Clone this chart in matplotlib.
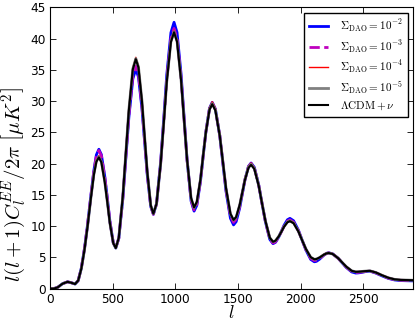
import numpy as np
import matplotlib
matplotlib.use("Agg")
import matplotlib.pyplot as plt

# multipoles (shared by all curves)
ell = [0, 30, 60, 100, 140, 170, 200, 225, 250, 275, 300, 325, 350, 370, 390,
       410, 437, 458, 478, 505, 525,
       549, 581, 605, 629, 661, 685,
       706, 734, 755, 776, 804, 825,
       850, 883, 908, 932, 965, 990,
       1014, 1046, 1070, 1094, 1126, 1150,
       1172, 1201, 1222, 1244, 1273, 1295,
       1320, 1355, 1380, 1405, 1440, 1465,
       1486, 1514, 1535, 1556, 1584, 1605,
       1631, 1666, 1692, 1719, 1754, 1780,
       1800, 1827, 1848, 1868, 1895, 1915,
       1944, 1983, 2012, 2042, 2081, 2110,
       2127, 2150, 2168, 2185, 2208, 2225,
       2257, 2300, 2332, 2365, 2408, 2440,
       2457, 2480, 2498, 2515, 2538, 2555,
       2600, 2650, 2700, 2750, 2800, 2850, 2900]

# Sigma_DAO = 1e-2
ee_m2 = [0, 0.02, 0.2, 0.8, 1.1, 0.95, 0.75, 1.3, 3.3, 6.4, 10.3, 14.7, 18.9, 21.4, 22.3,
         21.45, 17.99, 14.4, 10.81, 7.35, 6.5,
         8.04, 14.31, 20.8, 27.29, 33.56, 35.1,
         33.85, 28.77, 23.5, 18.23, 13.15, 11.9,
         13.56, 20.28, 27.25, 34.22, 40.94, 42.6,
         40.97, 34.36, 27.5, 20.64, 14.03, 12.4,
         13.34, 17.15, 21.1, 25.05, 28.86, 29.8,
         28.74, 24.45, 20.0, 15.55, 11.26, 10.2,
         10.73, 12.9, 15.15, 17.4, 19.57, 20.1,
         19.4, 16.58, 13.65, 10.72, 7.9, 7.2,
         7.42, 8.31, 9.23, 10.14, 11.03, 11.25,
         10.87, 9.35, 7.78, 6.2, 4.68, 4.3,
         4.38, 4.7, 5.03, 5.35, 5.67, 5.75,
         5.57, 4.86, 4.13, 3.39, 2.68, 2.5,
         2.52, 2.58, 2.65, 2.72, 2.78, 2.8,
         2.5, 2.05, 1.65, 1.4, 1.3, 1.27, 1.25]

# Sigma_DAO = 1e-3
ee_m3 = [0, 0.02, 0.2, 0.8, 1.1, 0.95, 0.75, 1.3, 3.3, 6.4, 10.3, 14.6, 18.8, 21.2, 22.1,
         21.26, 17.84, 14.3, 10.76, 7.34, 6.5,
         8.07, 14.44, 21.05, 27.66, 34.03, 35.6,
         34.32, 29.13, 23.75, 18.37, 13.18, 11.9,
         13.5, 20.01, 26.75, 33.49, 40.0, 41.6,
         40.03, 33.68, 27.1, 20.52, 14.17, 12.6,
         13.52, 17.27, 21.15, 25.03, 28.78, 29.7,
         28.67, 24.49, 20.15, 15.81, 11.63, 10.6,
         11.11, 13.17, 15.3, 17.43, 19.49, 20.0,
         19.31, 16.53, 13.65, 10.77, 7.99, 7.3,
         7.5, 8.31, 9.15, 9.99, 10.8, 11.0,
         10.65, 9.23, 7.75, 6.27, 4.85, 4.5,
         4.56, 4.83, 5.1, 5.37, 5.64, 5.7,
         5.53, 4.85, 4.15, 3.45, 2.77, 2.6,
         2.61, 2.65, 2.7, 2.75, 2.79, 2.8,
         2.55, 2.1, 1.7, 1.45, 1.35, 1.32, 1.3]

# Sigma_DAO = 1e-4
ee_m4 = [0, 0.02, 0.2, 0.8, 1.1, 0.95, 0.75, 1.3, 3.2, 6.2, 10.1, 14.4, 18.4, 20.6, 21.3,
         20.5, 17.26, 13.9, 10.54, 7.3, 6.5,
         8.15, 14.83, 21.75, 28.67, 35.35, 37.0,
         35.65, 30.18, 24.5, 18.83, 13.35, 12.0,
         13.58, 20.0, 26.65, 33.3, 39.72, 41.3,
         39.76, 33.52, 27.05, 20.58, 14.34, 12.8,
         13.72, 17.47, 21.35, 25.23, 28.98, 29.9,
         28.87, 24.71, 20.4, 16.09, 11.93, 10.9,
         11.4, 13.41, 15.5, 17.59, 19.6, 20.1,
         19.42, 16.66, 13.8, 10.94, 8.18, 7.5,
         7.68, 8.43, 9.2, 9.97, 10.72, 10.9,
         10.57, 9.21, 7.8, 6.39, 5.03, 4.7,
         4.76, 5.0, 5.25, 5.5, 5.74, 5.8,
         5.63, 4.95, 4.25, 3.55, 2.87, 2.7,
         2.71, 2.75, 2.8, 2.85, 2.89, 2.9,
         2.65, 2.2, 1.78, 1.52, 1.42, 1.4, 1.37]

# Sigma_DAO = 1e-5
ee_m5 = [0, 0.02, 0.2, 0.8, 1.1, 0.95, 0.75, 1.3, 3.2, 6.2, 10.0, 14.3, 18.3, 20.4, 21.1,
         20.31, 17.11, 13.8, 10.49, 7.29, 6.5,
         8.14, 14.77, 21.65, 28.53, 35.16, 36.8,
         35.46, 30.03, 24.4, 18.77, 13.34, 12.0,
         13.57, 19.94, 26.55, 33.16, 39.53, 41.1,
         39.58, 33.42, 27.03, 20.64, 14.47, 12.95,
         13.85, 17.5, 21.28, 25.05, 28.7, 29.6,
         28.59, 24.51, 20.28, 16.04, 11.96, 10.95,
         11.44, 13.39, 15.43, 17.46, 19.42, 19.9,
         19.23, 16.51, 13.7, 10.89, 8.17, 7.5,
         7.68, 8.42, 9.18, 9.94, 10.67, 10.85,
         10.52, 9.17, 7.78, 6.38, 5.03, 4.7,
         4.75, 4.97, 5.2, 5.43, 5.65, 5.7,
         5.54, 4.88, 4.2, 3.52, 2.86, 2.7,
         2.71, 2.74, 2.78, 2.81, 2.84, 2.85,
         2.6, 2.15, 1.75, 1.5, 1.4, 1.38, 1.35]

# LambdaCDM + nu
ee_lcdm = [0, 0.02, 0.2, 0.8, 1.1, 0.95, 0.75, 1.3, 3.2, 6.2, 10.0, 14.3, 18.2, 20.3, 21.0,
           20.22, 17.04, 13.75, 10.46, 7.28, 6.5,
           8.13, 14.74, 21.6, 28.46, 35.07, 36.7,
           35.37, 29.96, 24.35, 18.74, 13.33, 12.0,
           13.57, 19.92, 26.5, 33.08, 39.43, 41.0,
           39.49, 33.36, 27.0, 20.64, 14.51, 13.0,
           13.89, 17.5, 21.25, 25.0, 28.61, 29.5,
           28.5, 24.45, 20.25, 16.05, 12.0, 11.0,
           11.48, 13.4, 15.4, 17.4, 19.32, 19.8,
           19.14, 16.44, 13.65, 10.86, 8.16, 7.5,
           7.68, 8.4, 9.15, 9.9, 10.62, 10.8,
           10.47, 9.13, 7.75, 6.37, 5.03, 4.7,
           4.75, 4.97, 5.2, 5.43, 5.65, 5.7,
           5.54, 4.88, 4.2, 3.52, 2.86, 2.7,
           2.71, 2.74, 2.78, 2.81, 2.84, 2.85,
           2.6, 2.15, 1.75, 1.5, 1.4, 1.38, 1.35]

labels = [r'$\Sigma_{\rm DAO}=10^{-2}$', r'$\Sigma_{\rm DAO}=10^{-3}$',
          r'$\Sigma_{\rm DAO}=10^{-4}$', r'$\Sigma_{\rm DAO}=10^{-5}$',
          r'$\Lambda{\rm CDM}+\nu$']

plt.rcParams['mathtext.fontset'] = 'cm'
plt.rcParams['xtick.direction'] = 'in'
plt.rcParams['ytick.direction'] = 'in'
plt.rcParams['xtick.top'] = True
plt.rcParams['ytick.right'] = True

fig = plt.figure(figsize=(4.15, 3.22), dpi=100)
ax = fig.add_axes([0.1205, 0.1034, 0.8755, 0.874])

ax.plot(ell, ee_m2, color='blue', lw=2.0, label=labels[0])
ax.plot(ell, ee_m3, color='m', lw=2.0, ls='--', label=labels[1])
ax.plot(ell, ee_m4, color='red', lw=1.0, label=labels[2])
ax.plot(ell, ee_m5, color='gray', lw=2.0, label=labels[3])
ax.plot(ell, ee_lcdm, color='black', lw=1.5, label=labels[4])

ax.set_xlim(0, 2900)
ax.set_ylim(0, 45)
ax.set_xticks([0, 500, 1000, 1500, 2000, 2500])
ax.set_yticks(range(0, 46, 5))
ax.tick_params(labelsize=8.7, length=4, width=0.6, pad=3)
for s in ax.spines.values():
    s.set_linewidth(0.8)

ax.set_xlabel(r'$l$', fontsize=13)
ax.xaxis.set_label_coords(0.5, -0.056)
ax.set_ylabel(r'$l(l+1)C_l^{EE}/2\pi\ \left[\mu K^2\right]$', fontsize=15)
ax.yaxis.set_label_coords(-0.062, 0.37)

leg = ax.legend(loc='upper right', fontsize=8, handlelength=1.65, handletextpad=1.1,
                fancybox=False, framealpha=1, borderpad=0.45, labelspacing=0.35,
                borderaxespad=0.5)
leg.get_frame().set_edgecolor('black')
leg.get_frame().set_linewidth(1.0)

fig.savefig('out.png', dpi=100)
